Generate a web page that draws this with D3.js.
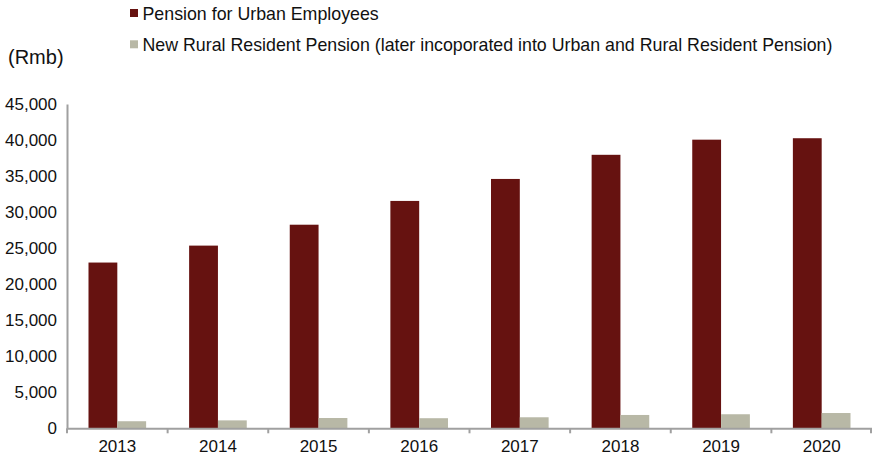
<!DOCTYPE html>
<html><head><meta charset="utf-8">
<script src="https://cdn.jsdelivr.net/npm/d3@7"></script>
<style>body{margin:0;background:#fff}svg{display:block}text{font-family:"Liberation Sans",Arial,sans-serif;fill:#111}</style>
</head><body><svg id="c" width="872" height="462"></svg>
<script>
const years = ["2013","2014","2015","2016","2017","2018","2019","2020"];
const urban = [23000,25350,28250,31550,34600,37950,40050,40250];
const rural = [980,1100,1430,1400,1530,1850,1950,2120];
const seriesNames = ["Pension for Urban Employees","New Rural Resident Pension (later incoporated into Urban and Rural Resident Pension)"];
const colors = ["#661210","#b8b8a6"];
const yTicks = [0,5000,10000,15000,20000,25000,30000,35000,40000,45000];

const svg = d3.select("#c");
const x0 = 67, x1 = 872, yTop = 104, yBot = 428.3;
const x = d3.scaleBand().domain(years).range([x0, x1]).paddingInner(0).paddingOuter(0);
const inner = d3.scaleBand().domain([0,1]).range([21.5, x.bandwidth()-21.5]);
const y = d3.scaleLinear().domain([0,45000]).range([yBot, yTop]);

const series = [urban, rural];
series.forEach((vals, si) => {
  svg.append("g").selectAll("rect").data(years).join("rect")
    .attr("x", d => x(d) + inner(si))
    .attr("width", inner.bandwidth())
    .attr("y", (d,i) => y(vals[i]))
    .attr("height", (d,i) => yBot - y(vals[i]))
    .attr("fill", colors[si]);
});

// y axis
const ya = svg.append("g").attr("transform", `translate(${x0},0)`)
  .call(d3.axisLeft(y).tickValues(yTicks).tickSize(0).tickPadding(10).tickFormat(d3.format(",")));
ya.select(".domain").attr("stroke","#a0a0a0").attr("stroke-width",2);
ya.selectAll("text").style("font-size","17px").attr("fill","#111");

// x axis
const xa = svg.append("g").attr("transform", `translate(0,${yBot})`)
  .call(d3.axisBottom(x).tickSize(0).tickPadding(12));
xa.select(".domain").attr("stroke","#a0a0a0").attr("stroke-width",2);
xa.selectAll("text").style("font-size","17px").attr("fill","#111");
// tick marks at category boundaries
svg.append("g").selectAll("line").data(years.concat(["end"])).join("line")
  .attr("x1", (d,i) => i < years.length ? x(d) : x1-1)
  .attr("x2", (d,i) => i < years.length ? x(d) : x1-1)
  .attr("y1", yBot).attr("y2", yBot+5)
  .attr("stroke","#a0a0a0").attr("stroke-width",2);

// unit label
svg.append("text").attr("x", 8).attr("y", 64).text("(Rmb)").style("font-size","20px");

// legend
const lg = svg.append("g");
seriesNames.forEach((n, i) => {
  const cy = 13 + i*31.3;
  lg.append("rect").attr("x",130).attr("y",cy-4).attr("width",8).attr("height",8).attr("fill",colors[i]);
  lg.append("text").attr("x",142.5).attr("y",cy+6.5).text(n).style("font-size","17.8px");
});
</script></body></html>
